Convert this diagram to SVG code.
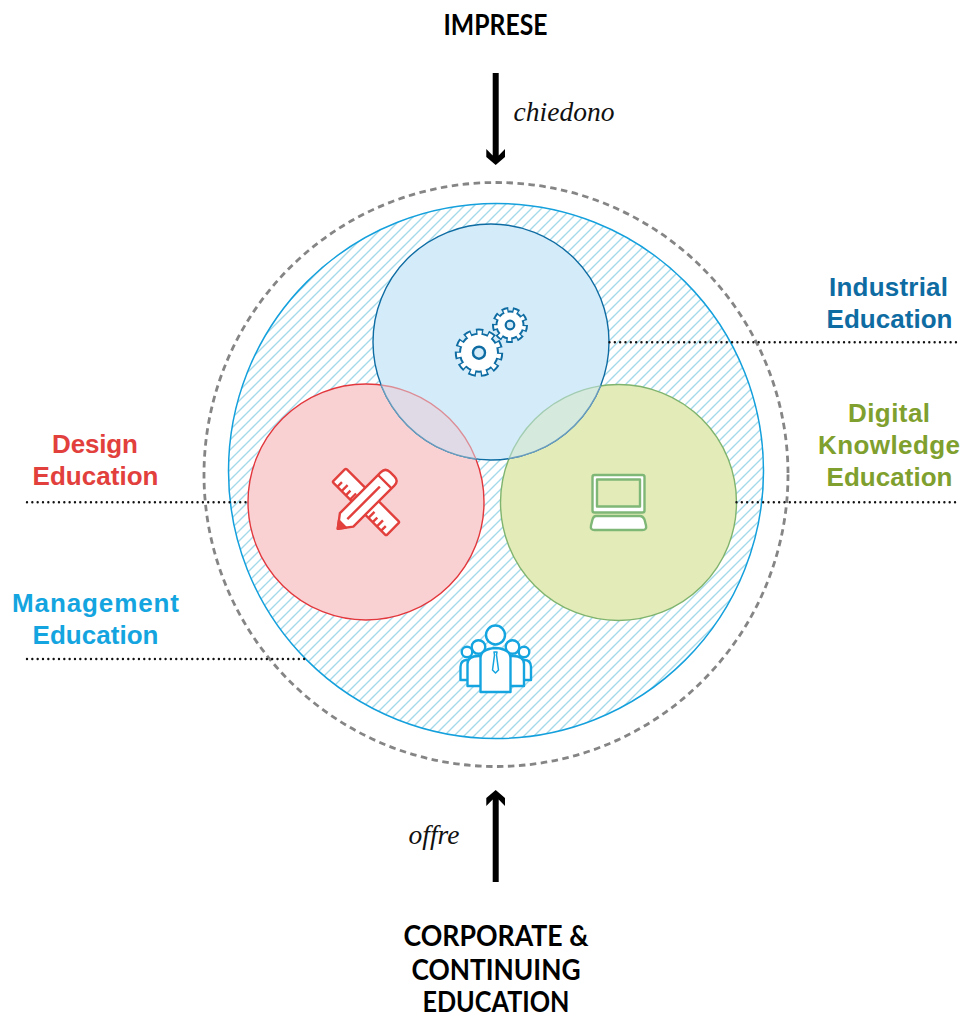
<svg xmlns="http://www.w3.org/2000/svg" width="962" height="1018" viewBox="0 0 962 1018">
<style>
text{font-family:"Liberation Sans",Arial,sans-serif;font-weight:700;text-anchor:middle}
.h{font-family:"Lato","Liberation Sans",sans-serif;font-size:28px;fill:#000}
.l{font-size:26px}
.i{font-family:"Liberation Serif",serif;font-style:italic;font-weight:400;font-size:27.500px;fill:#111}
.dot{fill:none;stroke:#111;stroke-width:2.400;stroke-linecap:round;stroke-dasharray:0 5.330}
</style>
<defs>
<pattern id="hatch" width="10" height="10" patternUnits="userSpaceOnUse">
<path d="M-2 12 12 -2M-2 2 2 -2M8 12 12 8" fill="none" stroke="#a4d9ea" stroke-width="1.400"/>
</pattern>
<clipPath id="cBlue"><circle cx="491" cy="342" r="118"/></clipPath>
<clipPath id="cRed"><circle cx="366" cy="502" r="118"/></clipPath>
<clipPath id="cGreen"><circle cx="618.500" cy="502.500" r="118"/></clipPath>
</defs>

<g id="outer-ring"><circle cx="496" cy="474.500" r="292" fill="none" stroke="#858585" stroke-width="2.800" stroke-dasharray="6.500 4.500"/></g>

<g id="management">
<circle cx="496" cy="471" r="267.500" fill="#fff"/>
<circle cx="496" cy="471" r="267.500" fill="url(#hatch)" stroke="#14a0dc" stroke-width="1.500"/>
<g fill="#fff" stroke="#14a5e0" stroke-width="2.400" stroke-linejoin="round">
<path d="M460.500 680V667q0-7 7-7t7 7v13z"/>
<path d="M517 680V667q0-7 7-7t7 7v13z"/>
<circle cx="467" cy="652" r="5.300"/>
<circle cx="524" cy="652" r="5.300"/>
<path d="M467.500 686V664q0-8 11-8t11 8v22z"/>
<path d="M502 686V664q0-8 11-8t11 8v22z"/>
<circle cx="478.500" cy="647" r="6.800"/>
<circle cx="512.500" cy="647" r="6.800"/>
<path d="M480.500 692V658q0-9 15-10 15 1 15 10v34z"/>
<circle cx="495.500" cy="635" r="9.500"/>
<path d="M494 652h3l-.5 3 2 15-3 3-3-3 2-15z" stroke-width="1.500"/>
</g>
</g>

<g id="design">
<circle cx="366" cy="502" r="118" fill="#f9d1d3" stroke="#e2373c" stroke-width="1.400"/>
<g stroke="#e2403c" stroke-width="2.400" fill="#fff" stroke-linejoin="round">
<g transform="translate(366 502) rotate(45)">
<rect x="-38" y="-9.500" width="76" height="19" rx="1.500"/>
<path d="M-31 9.500V3M-25 9.500V1M-19 9.500V3M-13 9.500V1M13 9.500V1M19 9.500V3M25 9.500V1M31 9.500V3" fill="none"/>
</g>
<g transform="translate(365 501.500) rotate(-45)">
<path d="M-38.500 0-26-9.500H32q6.500 0 6.500 6.500v6q0 6.500-6.500 6.500H-26z"/>
<path d="M-38.500 0-32-4.900V4.900z" fill="#e2403c"/>
<path d="M28-9.500V9.500M-25 0H21" fill="none"/>
</g>
</g>
</g>

<g id="digital">
<circle cx="618.500" cy="502.500" r="118" fill="#e3ebb9" stroke="#7fb46e" stroke-width="1.400"/>
<g stroke="#7fb777" stroke-width="2.400" fill="#fff" stroke-linejoin="round">
<rect x="592.500" y="475" width="52" height="37.500" rx="2"/>
<rect x="597" y="479.500" width="43" height="27" fill="#e3ebb9"/>
<path d="M596 516H640q3 0 4.500 3.500l1.500 6q1 4.500-3.500 4.500H594.500q-4.500 0-3.500-4.500l1.500-6q1-3.500 3.500-3.500z"/>
</g>
</g>

<g id="industrial">
<circle cx="491" cy="342" r="118" fill="#d4ecf9" stroke="#0e6ca3" stroke-width="1.400"/>
<g clip-path="url(#cBlue)">
<circle cx="366" cy="502" r="118" fill="#e0dae6" stroke="#dc8e97" stroke-width="1.400"/>
<circle cx="618.500" cy="502.500" r="118" fill="#d5e9dd" stroke="#a3cdb3" stroke-width="1.400"/>
</g>
<g fill="none" stroke="#6a9cbd" stroke-width="1.400">
<circle cx="491" cy="342" r="118" clip-path="url(#cRed)"/>
<circle cx="491" cy="342" r="118" clip-path="url(#cGreen)"/>
</g>
<g fill="none">
<circle cx="510" cy="325" r="15" stroke="#0e6ca3" stroke-width="6" pathLength="90" stroke-dasharray="6 4"/>
<circle cx="510" cy="325" r="14.500" fill="#0e6ca3"/>
<circle cx="510" cy="325" r="12.500" fill="#fff"/>
<circle cx="510" cy="325" r="14" stroke="#fff" stroke-width="4" pathLength="90" stroke-dasharray="3.600 6.400" stroke-dashoffset="-1.200"/>
<circle cx="510" cy="325" r="4.300" fill="#d4ecf9" stroke="#0e6ca3" stroke-width="2.200"/>
<circle cx="479" cy="352.700" r="20.800" stroke="#0e6ca3" stroke-width="6.800" pathLength="110" stroke-dasharray="6 4"/>
<circle cx="479" cy="352.700" r="20" fill="#0e6ca3"/>
<circle cx="479" cy="352.700" r="18" fill="#fff"/>
<circle cx="479" cy="352.700" r="19.800" stroke="#fff" stroke-width="4.800" pathLength="110" stroke-dasharray="3.800 6.200" stroke-dashoffset="-1.100"/>
<circle cx="479" cy="352.700" r="6" fill="#d4ecf9" stroke="#0e6ca3" stroke-width="2.400"/>
</g>
</g>

<g id="connectors">
<path d="M486.300 149 492.700 155.500V73h6v82.500L505 149v8l-9.300 8-9.400-8z" fill="#000"/>
<path d="M486.300 806 492.700 799.500V882h6V799.500L505 806v-8l-9.300-8-9.400 8z" fill="#000"/>
<path class="dot" d="M609.500 342.300H957"/>
<path class="dot" d="M736.500 502.300H957"/>
<path class="dot" d="M27 502.300H248"/>
<path class="dot" d="M27 659H307"/>
</g>

<g id="label-imprese"><text class="h" x="495.500" y="34.500" textLength="104" lengthAdjust="spacingAndGlyphs">IMPRESE</text></g>
<g id="label-chiedono"><text class="i" x="564" y="121">chiedono</text></g>
<g id="label-offre"><text class="i" x="434" y="844">offre</text></g>
<g id="label-corporate">
<text class="h" x="496" y="945.500" textLength="185" lengthAdjust="spacingAndGlyphs">CORPORATE &amp;</text>
<text class="h" x="496" y="979.500" textLength="169" lengthAdjust="spacingAndGlyphs">CONTINUING</text>
<text class="h" x="496" y="1012" textLength="147" lengthAdjust="spacingAndGlyphs">EDUCATION</text>
</g>
<g id="label-industrial" fill="#0e6ca3">
<text class="l" x="888.500" y="296" textLength="119">Industrial</text>
<text class="l" x="889.500" y="328" textLength="126">Education</text>
</g>
<g id="label-digital" fill="#7f9f2e">
<text class="l" x="889" y="422" textLength="82">Digital</text>
<text class="l" x="889" y="454" textLength="142">Knowledge</text>
<text class="l" x="889.500" y="486" textLength="126">Education</text>
</g>
<g id="label-design" fill="#e2403c">
<text class="l" x="95" y="453" textLength="86">Design</text>
<text class="l" x="95.500" y="485" textLength="126">Education</text>
</g>
<g id="label-management" fill="#14a5e0">
<text class="l" x="95.500" y="612" textLength="167">Management</text>
<text class="l" x="95.500" y="644" textLength="126">Education</text>
</g>
</svg>
